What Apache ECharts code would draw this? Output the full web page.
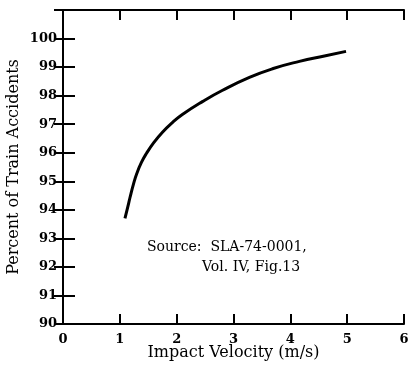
<!DOCTYPE html>
<html><head><meta charset="utf-8">
<script src="https://cdn.jsdelivr.net/npm/echarts@6/dist/echarts.min.js"></script>
<style>html,body{margin:0;padding:0;background:#fff}#c{width:408px;height:365px}</style>
</head><body><div id="c"></div>
<script>
var velocity = [1.09, 1.14, 1.18, 1.24, 1.30, 1.38, 1.47, 1.60, 1.75, 1.92, 2.10, 2.46, 2.80, 3.28, 3.70, 4.16, 4.60, 4.98];
var percent  = [93.70, 94.10, 94.44, 94.90, 95.28, 95.66, 95.98, 96.36, 96.72, 97.05, 97.34, 97.80, 98.18, 98.64, 98.95, 99.20, 99.39, 99.55];
var xTicks = [0, 1, 2, 3, 4, 5, 6];
var yTicks = [90, 91, 92, 93, 94, 95, 96, 97, 98, 99, 100];
var xTitle = 'Impact Velocity (m/s)';
var yTitle = 'Percent of Train Accidents';
var sourceLines = ['Source:  SLA-74-0001,', 'Vol. IV, Fig.13'];

var FONT = 'DejaVu Serif';
var chart = echarts.init(document.getElementById('c'));
var pts = velocity.map(function (v, i) { return [v, percent[i]]; });
var lineStyle = { color: '#000', width: 2 };
chart.setOption({
  animation: false,
  backgroundColor: '#fff',
  grid: { left: 63, right: 4, top: 10, bottom: 41, containLabel: false, outerBoundsMode: 'none' },
  xAxis: [{
    type: 'value', min: xTicks[0], max: xTicks[xTicks.length - 1], interval: 1,
    position: 'bottom',
    name: xTitle, nameLocation: 'middle', nameGap: 21, nameMoveOverlap: false,
    nameTextStyle: { fontFamily: FONT, fontSize: 16, color: '#000' },
    axisLine: { lineStyle: lineStyle },
    axisTick: { inside: true, length: 10, lineStyle: lineStyle },
    axisLabel: { fontFamily: FONT, fontSize: 13, color: '#000', fontWeight: 'bold', margin: 9 },
    splitLine: { show: false }
  }, {
    type: 'value', min: xTicks[0], max: xTicks[xTicks.length - 1], interval: 1,
    position: 'top',
    axisLine: { lineStyle: lineStyle },
    axisTick: { inside: true, length: 10, lineStyle: lineStyle },
    axisLabel: { show: false },
    splitLine: { show: false }
  }],
  yAxis: [{
    type: 'value', min: yTicks[0], max: 101, interval: 1,
    position: 'left',
    name: yTitle, nameLocation: 'middle', nameGap: 41, nameRotate: 90, nameMoveOverlap: false,
    nameTextStyle: { fontFamily: FONT, fontSize: 16, color: '#000' },
    axisLine: { lineStyle: lineStyle },
    axisTick: { inside: true, length: 12, lineStyle: lineStyle },
    axisLabel: {
      fontFamily: FONT, fontSize: 13, color: '#000', fontWeight: 'bold', margin: 6,
      formatter: function (v) { return yTicks.indexOf(v) >= 0 ? String(v) : ''; }
    },
    splitLine: { show: false }
  }, {
    type: 'value', min: yTicks[0], max: 101, interval: 1,
    position: 'right',
    axisLine: { lineStyle: lineStyle },
    axisTick: { inside: true, length: 9, lineStyle: lineStyle },
    axisLabel: { show: false },
    splitLine: { show: false }
  }],
  graphic: [
    { type: 'text', left: 147, top: 240, style: { text: sourceLines[0], font: '14px "DejaVu Serif"', fill: '#000' } },
    { type: 'text', left: 202, top: 260, style: { text: sourceLines[1], font: '14px "DejaVu Serif"', fill: '#000' } }
  ],
  series: [{
    type: 'line', data: pts, smooth: 0.5, symbol: 'none',
    lineStyle: { color: '#000', width: 3 }
  }]
});
</script></body></html>
